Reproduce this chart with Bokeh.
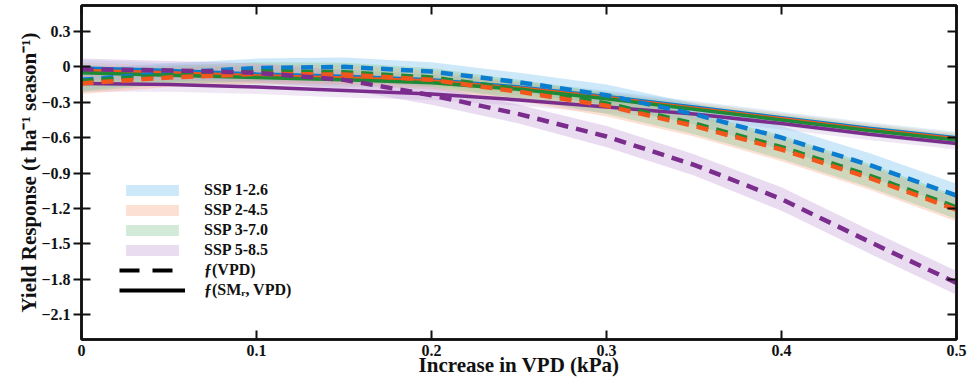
from bokeh.plotting import figure
from bokeh.models import LinearAxis, FixedTicker, Legend, LegendItem, Range1d
from bokeh.embed import file_html
from bokeh.resources import INLINE

# ---- data ----
vpd = [0, 0.05, 0.1, 0.15, 0.2, 0.25, 0.3, 0.35, 0.4, 0.45, 0.5]

# f(VPD)  (dashed)
ssp126_vpd = [-0.11, -0.05, -0.01, 0.00, -0.04, -0.13, -0.24, -0.40, -0.60, -0.83, -1.09]
ssp245_vpd = [-0.14, -0.09, -0.06, -0.065, -0.11, -0.21, -0.33, -0.50, -0.70, -0.94, -1.21]
ssp370_vpd = [-0.12, -0.07, -0.04, -0.045, -0.09, -0.19, -0.31, -0.48, -0.68, -0.92, -1.19]
ssp585_vpd = [-0.02, -0.03, -0.05, -0.11, -0.24, -0.40, -0.59, -0.83, -1.12, -1.48, -1.83]

# f(SMr, VPD)  (solid)
ssp126_sm = [-0.01, -0.03, -0.06, -0.08, -0.11, -0.17, -0.25, -0.34, -0.43, -0.52, -0.60]
ssp245_sm = [-0.03, -0.05, -0.075, -0.095, -0.12, -0.18, -0.26, -0.35, -0.44, -0.53, -0.61]
ssp370_sm = [-0.05, -0.07, -0.09, -0.11, -0.135, -0.19, -0.27, -0.36, -0.45, -0.54, -0.62]
ssp585_sm = [-0.14, -0.15, -0.17, -0.20, -0.23, -0.28, -0.34, -0.40, -0.48, -0.57, -0.65]

# half-widths of the shaded uncertainty bands
band_hw_vpd = [0.09, 0.08, 0.08, 0.08, 0.08, 0.08, 0.09, 0.09, 0.10, 0.10, 0.10]
band_hw_sm = [0.07, 0.06, 0.06, 0.06, 0.05, 0.05, 0.05, 0.05, 0.05, 0.05, 0.05]

scenarios = ["SSP 1-2.6", "SSP 2-4.5", "SSP 3-7.0", "SSP 5-8.5"]
x_ticks = [0, 0.1, 0.2, 0.3, 0.4, 0.5]
y_ticks = [-2.1, -1.8, -1.5, -1.2, -0.9, -0.6, -0.3, 0, 0.3]

line_colors = ["#0b7dd0", "#f2561a", "#1f8a35", "#7b2d8e"]
band_colors = ["#7cc3ec", "#f9ad8e", "#88c895", "#c6a2d8"]

FONT = "Liberation Serif"

p = figure(width=969, height=379, output_backend="svg", toolbar_location=None,
           x_range=Range1d(0, 0.5), y_range=Range1d(-2.31, 0.52),
           x_axis_type=None, y_axis_type=None)
p.min_border_left = 81
p.min_border_right = 13
p.min_border_top = 5
p.min_border_bottom = 0
p.outline_line_color = "#111111"
p.outline_line_width = 2.5
p.background_fill_color = "white"
p.border_fill_color = "white"

def style_axis(ax, labels=True, tin=9, tout=0):
    ax.axis_line_width = 2.5
    ax.axis_line_color = "#111111"
    ax.major_tick_line_width = 2
    ax.major_tick_line_color = "#111111"
    ax.major_tick_in = tin
    ax.major_tick_out = tout
    ax.minor_tick_line_color = None
    if labels:
        ax.major_label_text_font = FONT
        ax.major_label_text_font_style = "bold"
        ax.major_label_text_font_size = "16px"
        ax.major_label_text_color = "#111111"
    else:
        ax.major_label_text_font_size = "0px"
        ax.major_label_text_color = None
        ax.major_label_standoff = 0
        ax.major_label_overrides = {t: "" for t in ax.ticker.ticks}

xb = LinearAxis(ticker=FixedTicker(ticks=x_ticks), axis_label="Increase in VPD (kPa)")
style_axis(xb, True, tin=9, tout=0)
xb.major_label_overrides = {0: "0"}
xb.major_label_standoff = 5
xb.axis_label_standoff = -6
xb.axis_label_text_font = FONT
xb.axis_label_text_font_style = "bold"
xb.axis_label_text_font_size = "21px"
xb.axis_label_text_color = "#111111"
p.add_layout(xb, "below")

yl = LinearAxis(ticker=FixedTicker(ticks=y_ticks),
                axis_label="Yield Response (t ha\u207b\u00b9 season\u207b\u00b9)")
style_axis(yl, True, tin=9, tout=8)
yl.major_label_overrides = {0: "0"}
yl.major_label_standoff = 3
yl.axis_label_standoff = -3
yl.axis_label_text_font = FONT
yl.axis_label_text_font_style = "bold"
yl.axis_label_text_font_size = "21px"
yl.axis_label_text_color = "#111111"
p.add_layout(yl, "left")

xt = LinearAxis(ticker=FixedTicker(ticks=x_ticks))
style_axis(xt, False, tin=9, tout=0)
p.add_layout(xt, "above")

yr = LinearAxis(ticker=FixedTicker(ticks=y_ticks))
style_axis(yr, False, tin=9, tout=0)
p.add_layout(yr, "right")

vpd_series = [ssp126_vpd, ssp245_vpd, ssp370_vpd, ssp585_vpd]
sm_series = [ssp126_sm, ssp245_sm, ssp370_sm, ssp585_sm]

band_renderers = []
for ys, bc in zip(sm_series, band_colors):
    lo = [y - h for y, h in zip(ys, band_hw_sm)]
    hi = [y + h for y, h in zip(ys, band_hw_sm)]
    p.varea(x=vpd, y1=lo, y2=hi, fill_color=bc, fill_alpha=0.26)
for ys, bc in zip(vpd_series, band_colors):
    lo = [y - h for y, h in zip(ys, band_hw_vpd)]
    hi = [y + h for y, h in zip(ys, band_hw_vpd)]
    r = p.varea(x=vpd, y1=lo, y2=hi, fill_color=bc, fill_alpha=0.38)
    band_renderers.append(r)

# solid lines f(SMr, VPD)
for ys, lc in zip(sm_series, line_colors):
    p.line(vpd, ys, line_color=lc, line_width=3.5)

# dashed lines f(VPD): blue, green, orange, purple
for idx in [0, 2, 1, 3]:
    p.line(vpd, vpd_series[idx], line_color=line_colors[idx], line_width=4.5,
           line_dash="12 8")

# legend-only renderers (kept outside the visible range)
dash_r = p.line(x=[-1, -0.9], y=[-9, -9], line_color="black", line_width=4, line_dash="20 13")
solid_r = p.line(x=[-1, -0.9], y=[-9, -9], line_color="black", line_width=4)

items = [LegendItem(label=s, renderers=[r]) for s, r in zip(scenarios, band_renderers)]
items.append(LegendItem(label="\u0192(VPD)", renderers=[dash_r]))
items.append(LegendItem(label="\u0192(SM\u1d63, VPD)", renderers=[solid_r]))

legend = Legend(items=items, location=(38, 40), orientation="vertical")
legend.border_line_color = None
legend.background_fill_alpha = 0
legend.label_text_font = FONT
legend.label_text_font_style = "bold"
legend.label_text_font_size = "16px"
legend.label_text_color = "#111111"
legend.glyph_width = 66
legend.glyph_height = 14
legend.label_height = 18
legend.label_standoff = 19
legend.spacing = 2
legend.padding = 4
legend.margin = 0
p.add_layout(legend, "center")

open("out.html", "w").write(file_html(p, INLINE))
